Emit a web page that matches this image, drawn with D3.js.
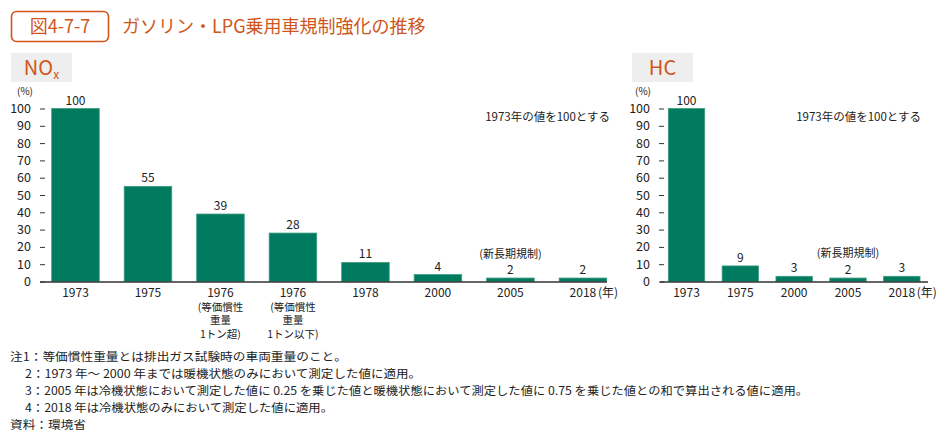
<!DOCTYPE html>
<html><head><meta charset="utf-8">
<script src="https://cdn.jsdelivr.net/npm/d3@7"></script>
<style>
body{margin:0;background:#fff;}
text{font-family:"Noto Sans CJK JP","Noto Sans",sans-serif;}
</style></head>
<body>
<svg id="c" width="946" height="444"></svg>
<script>
const noxCategories = ["1973","1975","1976a","1976b","1978","2000","2005","2018"];
const noxLabels = [["1973"],["1975"],["1976","(等価慣性","重量","1トン超)"],["1976","(等価慣性","重量","1トン以下)"],["1978"],["2000"],["2005"],["2018"]];
const noxValues = [100,55,39,28,11,4,2,2];
const hcCategories = ["1973","1975","2000","2005","2018"];
const hcLabels = [["1973"],["1975"],["2000"],["2005"],["2018"]];
const hcValues = [100,9,3,2,3];
const yTicks = [0,10,20,30,40,50,60,70,80,90,100];
const notes = [
 "注1：等価慣性重量とは排出ガス試験時の車両重量のこと。",
 "2：1973 年～ 2000 年までは暖機状態のみにおいて測定した値に適用。",
 "3：2005 年は冷機状態において測定した値に 0.25 を乗じた値と暖機状態において測定した値に 0.75 を乗じた値との和で算出される値に適用。",
 "4：2018 年は冷機状態のみにおいて測定した値に適用。",
 "資料：環境省"
];

const svg = d3.select("#c");
const orange = "#d0561c";
const green = "#007b5f";

// header
svg.append("rect").attr("x",11.5).attr("y",11.5).attr("width",97).attr("height",30).attr("rx",5)
  .attr("fill","none").attr("stroke",orange).attr("stroke-width",1.6);
svg.append("text").attr("x",60).attr("y",33).attr("text-anchor","middle").attr("fill",orange)
  .attr("font-size",18).text("図4-7-7");
svg.append("text").attr("x",122).attr("y",33).attr("fill",orange).attr("font-size",18)
  .text("ガソリン・LPG乗用車規制強化の推移");

function panel(opts){
  const {cats, labels, values, r0, r1, axisX0, axisX1, tickX, boxX, boxW, title, sub, noteX, pct} = opts;
  const y = d3.scaleLinear().domain([0,100]).range([281.5,108.5]);
  const x = d3.scaleBand().domain(cats).range([r0,r1]).paddingInner(opts.pad).paddingOuter(0);
  const g = svg.append("g");
  // title box
  g.append("rect").attr("x",boxX).attr("y",53).attr("width",boxW).attr("height",29).attr("fill","#eeeeee");
  const t = g.append("text").attr("x",boxX+boxW/2).attr("y",75).attr("text-anchor","middle")
    .attr("fill",orange).attr("font-size",20).text(title);
  if(sub) t.append("tspan").attr("font-size",12).attr("dy",4).text(sub);
  // y axis
  const ya = d3.axisLeft(y).tickValues(yTicks).tickSize(5).tickPadding(4);
  const yg = g.append("g").attr("transform",`translate(${tickX},0)`).call(ya);
  yg.select(".domain").remove();
  yg.selectAll("line").attr("stroke","#333").attr("transform","translate(5,0)");
  yg.selectAll("text").attr("font-size",12.5).attr("fill","#222").attr("font-family","'Noto Sans CJK JP',sans-serif");
  g.append("text").attr("x",pct).attr("y",95).attr("text-anchor","middle").attr("font-size",10).attr("fill","#222").text("(%)");
  // bars
  g.selectAll("rect.bar").data(values).join("rect").attr("class","bar")
    .attr("x",(d,i)=>x(cats[i])).attr("width",x.bandwidth())
    .attr("y",d=>y(d)).attr("height",d=>y(0)-y(d))
    .attr("fill",green).attr("stroke","#3d9c80").attr("stroke-width",0.8);
  g.selectAll("text.val").data(values).join("text").attr("class","val")
    .attr("x",(d,i)=>x(cats[i])+x.bandwidth()/2).attr("y",d=>y(d)-4)
    .attr("text-anchor","middle").attr("font-size",12).attr("fill","#222").text(d=>d);
  // baseline
  g.append("line").attr("x1",axisX0).attr("x2",axisX1).attr("y1",y(0)+0.5).attr("y2",y(0)+0.5)
    .attr("stroke","#333").attr("stroke-width",1.5);
  // x labels
  labels.forEach((ls,i)=>{
    const cx = x(cats[i])+x.bandwidth()/2;
    ls.forEach((l,j)=>{
      g.append("text").attr("x",cx).attr("y",297+j*13.5).attr("text-anchor","middle")
        .attr("font-size",j===0?12:10.5).attr("fill","#222").text(l);
    });
    if(i===labels.length-1){
      const w = 28;
      g.append("text").attr("x",cx+w/2+1).attr("y",297).attr("font-size",12).attr("fill","#222").text("(年)");
    }
  });
  // note
  g.append("text").attr("x",noteX).attr("y",121).attr("text-anchor","end").attr("font-size",11.5).attr("fill","#222").text("1973年の値を100とする");
  const c2005 = x("2005")+x.bandwidth()/2;
  g.append("text").attr("x",c2005).attr("y",opts.shinY).attr("text-anchor","middle").attr("font-size",11).attr("fill","#222").text("(新長期規制)");
}

panel({cats:noxCategories, labels:noxLabels, values:noxValues, r0:51.7, r1:606.7, pad:0.344,
  axisX0:40, axisX1:607, tickX:40, boxX:11, boxW:61, title:"NO", sub:"x", noteX:610, pct:25, shinY:258});
panel({cats:hcCategories, labels:hcLabels, values:hcValues, r0:668.3, r1:920, pad:0.324,
  axisX0:660, axisX1:928, tickX:659, boxX:632, boxW:61, title:"HC", sub:null, noteX:921, pct:643, shinY:257});

// notes
const noteX0 = [10,25,25,25,10];
const noteX1 = [347,421,808,333,86];
notes.forEach((n,i)=>{
  svg.append("text").attr("x",noteX0[i]).attr("y",361+i*17).attr("font-size",11.5).attr("fill","#222")
    .attr("textLength",noteX1[i]-noteX0[i]).attr("lengthAdjust","spacingAndGlyphs").text(n);
});
</script>
</body></html>
